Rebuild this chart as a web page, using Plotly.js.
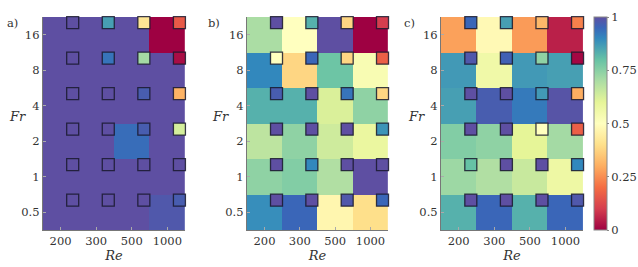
<!DOCTYPE html>
<html><head><meta charset="utf-8">
<script src="https://cdn.plot.ly/plotly-3.0.1.min.js"></script>
<style>body{margin:0;padding:0;background:#fff}#g{width:638px;height:267px}</style>
</head><body><div id="g"></div>
<script>
// Categories
const Re = ['200','300','500','1000'];
const Fr = ['0.5','1','2','4','8','16'];
// Panel a) cell values (rows: Fr 0.5 -> 16; cols: Re 200 -> 1000)
const heatA = [
  [1,1,1,0.98],
  [1,1,1,1],
  [1,1,0.94,1],
  [1,1,1,1],
  [1,1,1,1],
  [1,1,1,0.0]
];
const markA = [
  [1,1,1,0.97],
  [1,1,1,1],
  [1,1,0.97,0.63],
  [1,1,0.97,0.31],
  [1,0.93,0.71,0.02],
  [1,0.86,0.42,0.16]
];
// Panel b)
const heatB = [
  [0.89,0.95,0.47,0.40],
  [0.74,0.76,0.69,1],
  [0.67,0.74,0.64,0.58],
  [0.83,0.83,0.62,0.74],
  [0.90,0.38,0.79,0.53],
  [0.70,0.50,1,0.0]
];
const markB = [
  [1,1,0.98,0.95],
  [1,0.9,1,1],
  [1,1,1,0.88],
  [0.97,1,0.93,0.38],
  [0.5,0.95,0.38,0.17],
  [1,0.83,0.38,0.1]
];
// Panel c)
const heatC = [
  [0.83,0.95,0.83,0.95],
  [0.72,0.69,0.65,0.57],
  [0.76,0.74,0.60,0.71],
  [0.86,0.97,0.92,0.99],
  [0.87,0.56,0.87,0.86],
  [0.28,0.48,0.27,0.05]
];
const markC = [
  [1,1,1,0.98],
  [0.8,1,1,0.9],
  [1,1,0.5,0.17],
  [1,1,0.87,0.3],
  [0.98,0.96,0.74,0.01],
  [0.95,0.86,0.32,0.23]
];
const cbTicks = [0,0.25,0.5,0.75,1];

const spectral = [[0,'#9e0142'],[0.1,'#d53e4f'],[0.2,'#f46d43'],[0.3,'#fdae61'],[0.4,'#fee08b'],[0.5,'#ffffbf'],[0.6,'#e6f598'],[0.7,'#abdda4'],[0.8,'#66c2a5'],[0.9,'#3288bd'],[0.95,'#3a66b8'],[1,'#5e4fa2']];

const W=638,H=267;
const xi = Re.map((_,i)=>i), yi = Fr.map((_,j)=>j);
const off = 0.34;
const serif = 'DejaVu Serif';
const fs = 11.5;

function panel(heat, mark, n, showScale){
  const xs=[],ys=[],cs=[];
  mark.forEach((row,j)=>row.forEach((v,i)=>{xs.push(i+off);ys.push(j+off);cs.push(v);}));
  const sfx = n===1?'':String(n);
  return [
    {type:'heatmap', x:xi, y:yi, z:heat, zmin:0, zmax:1, colorscale:spectral,
     xaxis:'x'+sfx, yaxis:'y'+sfx, showscale:showScale, hoverinfo:'skip',
     colorbar: showScale ? {x:597/W, xanchor:'left', thickness:13, thicknessmode:'pixels',
       len:213/H, lenmode:'fraction', y:37/H, yanchor:'bottom', outlinecolor:'#888', outlinewidth:1,
       tickvals:cbTicks, ticktext:cbTicks.map(String), ticks:'outside', ticklen:2, tickcolor:'#888',
       tickfont:{family:serif,size:fs,color:'#333'}, xpad:0, ypad:0} : undefined},
    {type:'scatter', mode:'markers', x:xs, y:ys, xaxis:'x'+sfx, yaxis:'y'+sfx, cliponaxis:false, hoverinfo:'skip',
     marker:{symbol:'square', size:12, color:cs, cmin:0, cmax:1, colorscale:spectral, showscale:false,
       line:{color:'rgba(25,25,45,0.85)', width:1.3}}}
  ];
}
const data = [...panel(heatA,markA,1,false), ...panel(heatB,markB,2,false), ...panel(heatC,markC,3,true)];

const doms = [[43,186],[248,390],[443,586]];
const layout = {width:W,height:H,margin:{l:0,r:0,t:0,b:0},paper_bgcolor:'#fff',plot_bgcolor:'#fff',showlegend:false,
  font:{family:serif,size:fs,color:'#333'}, annotations:[]};
const letters=['a)','b)','c)'];
const letterX=[5,207,404];
const frX=[18,222,418];
doms.forEach((d,k)=>{
  const sfx = k===0?'':String(k+1);
  layout['xaxis'+sfx] = {domain:[d[0]/W,d[1]/W], anchor:'y'+sfx, range:[-0.5,3.5], tickvals:xi, ticktext:Re,
    showgrid:false, zeroline:false, showline:true, linecolor:'#777', linewidth:1, ticks:'inside', ticklen:3, tickcolor:'#aaa',
    tickfont:{family:serif,size:fs,color:'#333'}, fixedrange:true,
    title:{text:'<i>Re</i>', font:{family:serif,size:13,color:'#333'}, standoff:2}};
  layout['yaxis'+sfx] = {domain:[37/H,250/H], anchor:'x'+sfx, range:[-0.5,5.5], tickvals:yi, ticktext:Fr,
    showgrid:false, zeroline:false, showline:true, linecolor:'#777', linewidth:1, ticks:'inside', ticklen:3, tickcolor:'#aaa',
    tickfont:{family:serif,size:fs,color:'#333'}, fixedrange:true};
  layout.annotations.push({text:letters[k], xref:'paper', yref:'paper', x:letterX[k]/W, y:(H-23)/H, xanchor:'left', yanchor:'middle',
    showarrow:false, font:{family:serif,size:fs,color:'#333'}});
  layout.annotations.push({text:'<i>Fr</i>', xref:'paper', yref:'paper', x:frX[k]/W, y:(H-117)/H, xanchor:'center', yanchor:'middle',
    showarrow:false, font:{family:serif,size:13,color:'#333'}});
});
Plotly.newPlot('g', data, layout, {staticPlot:true, displayModeBar:false});
</script>
</body></html>
